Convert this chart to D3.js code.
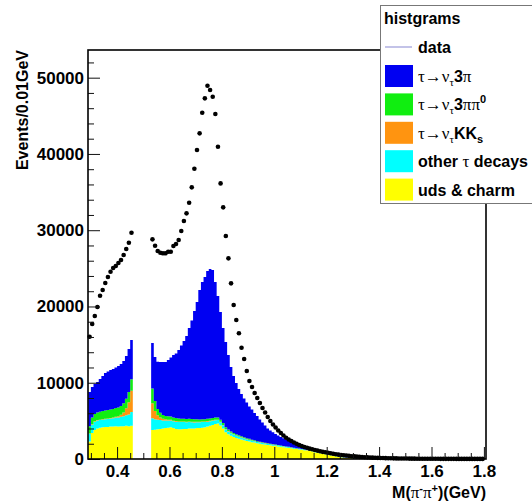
<!DOCTYPE html>
<html>
<head>
<meta charset="utf-8">
<script src="https://cdn.jsdelivr.net/npm/d3@7"></script>
<style>
  body { margin: 0; background: #fff; }
  svg text { font-family: "Liberation Sans", Arial, Helvetica, sans-serif; font-weight: bold; }
  svg .sym { font-family: "Liberation Serif", "Times New Roman", serif; font-weight: normal; }
</style>
</head>
<body>
<div id="chart"></div>
<script>
// bins are 0.01 GeV wide, the window 0.46-0.53 is vetoed (no entries)
const binWidth = 0.01
const lowStart = 0.29
const highStart = 0.53

// data, events per bin
const dataLow = [16030, 17700, 18750, 19930, 21410, 22160, 23070, 23860, 24550, 25040, 25300, 25700, 26090, 26750, 27530, 28360, 29670]
const dataHigh = [
  28800, 27960, 27270, 27050, 26970, 26970, 27180, 27180, 27920, 28190,
  28710, 29890, 31200, 32210, 33600, 35620, 38060, 40510, 42700, 45400,
  47290, 48940, 48380, 47500, 45230, 40940, 36140, 33000, 29240, 26310,
  23030, 20190, 18220, 16480, 14590, 13110, 11540, 10230, 9440, 8650,
  8000, 7340, 6690, 6100, 5510, 4980, 4520, 4130, 3740, 3410,
  3080, 2790, 2560, 2360, 2160, 1990, 1840, 1700, 1570, 1470,
  1360, 1270, 1180, 1100, 1020, 940, 880, 810, 750, 680,
  630, 580, 520, 490, 450, 410, 370, 340, 310, 285,
  260, 235, 215, 195, 178, 162, 148, 135, 123, 112,
  102, 94, 86, 79, 72, 66, 61, 56, 52, 48,
  44, 41, 38, 35, 33, 31, 29, 27, 25, 24,
  22, 21, 20, 19, 18, 17, 16, 15, 14, 14,
  13, 12, 12, 11, 11, 10, 10]

// MC components (stacked, bottom to top)
const udsLow = [2300, 3400, 3800, 4000, 4100, 4150, 4200, 4200, 4250, 4250, 4300, 4250, 4300, 4300, 4350, 4300, 4350]
const otherLow = [1000, 1100, 1100, 1050, 1000, 1000, 1000, 1050, 1050, 1100, 1150, 1200, 1250, 1300, 1400, 1550, 1800]
const kksLow = [50, 50, 50, 50, 60, 60, 70, 70, 80, 90, 100, 150, 250, 500, 900, 1600, 2800]
const pi3pi0Low = [950, 900, 950, 1000, 1050, 1100, 1100, 1100, 1100, 1100, 1150, 1150, 1150, 1200, 1250, 1350, 1500]
const pi3Low = [4480, 3990, 3930, 4000, 4280, 4570, 4900, 5050, 5190, 5260, 5300, 5440, 5500, 5550, 5600, 5620, 5150]

const udsHigh = [
  3800, 3850, 3900, 3950, 4000, 4050, 4100, 4150, 4050, 3950,
  3900, 3900, 3950, 3950, 4000, 4000, 4000, 4050, 4050, 4100,
  4150, 4250, 4350, 4450, 4600, 4650, 4400, 4000, 3500, 3250,
  3050, 2900, 2750, 2650, 2550, 2450, 2350, 2300, 2200, 2150,
  2050, 2000, 1950, 1900, 1850, 1800, 1750, 1700, 1650, 1600,
  1550, 1500, 1450, 1400, 1350, 1300, 1250, 1200, 1150, 1100,
  1050, 1000, 900, 830, 760, 690, 620, 550, 480, 410,
  350, 290, 240, 200, 160, 130, 100, 80, 65, 50,
  40, 30]
const otherHigh = [
  1550, 1350, 1250, 1150, 1050, 1000, 950, 900, 900, 950,
  950, 950, 900, 880, 850, 830, 800, 780, 760, 740,
  700, 650, 600, 550, 480, 450, 430, 420, 400, 370,
  340, 310, 290, 270, 250, 230, 210, 200, 190, 180,
  170, 160, 150, 140, 130, 125, 120, 115, 110, 105,
  100, 95, 90, 86, 82, 78, 74, 70, 66, 62,
  58, 55, 52, 49, 46, 43, 40, 37, 34, 32,
  30, 28, 26, 24, 22, 20, 18, 16, 15, 14,
  13, 12]
const kksHigh = [
  1950, 1100, 600, 350, 220, 150, 110, 90, 80, 70,
  70, 70, 70, 70, 70, 70, 70, 70, 70, 70,
  70, 70, 70, 70, 60, 60, 60, 50, 50, 50,
  50, 40, 40, 40, 40, 30, 30, 30, 30, 30,
  25, 25, 25, 20, 20, 20, 20, 15, 15, 15,
  15, 12, 12, 12, 10, 10, 10, 10, 8, 8,
  8, 6, 6, 6, 5, 5, 5, 4, 4, 4,
  3, 3, 3, 2, 2, 2, 2, 1, 1, 1,
  1, 1]
const pi3pi0High = [
  1950, 1300, 800, 600, 500, 450, 430, 420, 400, 390,
  380, 370, 370, 360, 350, 340, 330, 320, 310, 300,
  300, 300, 300, 300, 300, 280, 260, 240, 220, 200,
  180, 170, 160, 150, 140, 130, 120, 110, 100, 95,
  90, 85, 80, 75, 70, 65, 60, 55, 50, 48,
  46, 44, 42, 40, 38, 36, 34, 32, 30, 28,
  26, 24, 22, 20, 18, 17, 16, 15, 14, 13,
  12, 11, 10, 9, 8, 7, 6, 6, 5, 5,
  4, 4]
const pi3High = [
  5950, 5770, 6200, 6670, 6950, 7070, 7390, 7750, 8210, 8470,
  8990, 9590, 10180, 10870, 11900, 12920, 14200, 15360, 16970, 17990,
  18640, 19380, 19590, 19410, 17760, 15930, 14120, 12460, 11170, 9760,
  8440, 7460, 6720, 6070, 5540, 5090, 4700, 4240, 3970, 3575,
  3305, 2910, 2585, 2255, 1930, 1730, 1550, 1395, 1255, 1110,
  1000, 910, 810, 710, 640, 570, 490, 420, 360, 310,
  250, 200, 210, 195, 180, 165, 150, 125, 110, 100,
  95, 90, 70, 65, 60, 50, 45, 37, 34, 20,
  12, 8]

const xMajorTicks = [0.4, 0.6, 0.8, 1.0, 1.2, 1.4, 1.6, 1.8]
const xTickLabels = ["0.4", "0.6", "0.8", "1", "1.2", "1.4", "1.6", "1.8"]
const yMajorTicks = [0, 10000, 20000, 30000, 40000, 50000]

const components = [
  { key: "uds", color: "#ffff00", low: udsLow, high: udsHigh },
  { key: "other", color: "#00ffff", low: otherLow, high: otherHigh },
  { key: "kks", color: "#ff9410", low: kksLow, high: kksHigh },
  { key: "pi3pi0", color: "#10ee10", low: pi3pi0Low, high: pi3pi0High },
  { key: "pi3", color: "#0000f2", low: pi3Low, high: pi3High }
]

class StackPlot {

  constructor(selector) {

    this.width = 532
    this.height = 504
    this.frame = { left: 88, right: 486, top: 50, bottom: 459 }

    this.svg = d3.select(selector).append("svg")
      .attr("width", this.width)
      .attr("height", this.height)

    this.x = d3.scaleLinear().domain([0.289, 1.808]).range([this.frame.left, this.frame.right])
    this.y = d3.scaleLinear().domain([0, 53630]).range([this.frame.bottom, this.frame.top])

    this.svg.append("clipPath").attr("id", "frameclip")
      .append("rect")
      .attr("x", this.frame.left).attr("y", this.frame.top)
      .attr("width", this.frame.right - this.frame.left)
      .attr("height", this.frame.bottom - this.frame.top)

    this.drawStack(lowStart, "low")
    this.drawStack(highStart, "high")
    this.drawData()
    this.drawAxes()
    this.drawLegend()

  }

  stackRows(start, seg) {
    let n = components[0][seg].length
    let rows = d3.range(n + 1).map(i => {
      let j = Math.min(i, n - 1)
      let row = { lo: +(start + i * binWidth).toFixed(3) }
      components.forEach(c => row[c.key] = c[seg][j])
      return row
    })
    return d3.stack().keys(components.map(c => c.key))(rows)
  }

  drawStack(start, seg) {

    var self = this

    let area = d3.area()
      .curve(d3.curveStepAfter)
      .x(d => self.x(d.data.lo))
      .y0(d => self.y(d[0]))
      .y1(d => self.y(d[1]))

    this.svg.append("g")
      .attr("clip-path", "url(#frameclip)")
      .selectAll("path")
      .data(this.stackRows(start, seg))
      .enter().append("path")
      .attr("fill", (d, i) => components[i].color)
      .attr("d", area)

  }

  drawData() {

    var self = this

    let points = dataLow.map((v, i) => [lowStart + (i + 0.5) * binWidth, v])
      .concat(dataHigh.map((v, i) => [highStart + (i + 0.5) * binWidth, v]))

    this.svg.append("g")
      .selectAll("circle")
      .data(points)
      .enter().append("circle")
      .attr("cx", d => self.x(d[0]))
      .attr("cy", d => self.y(d[1]))
      .attr("r", 2.3)
      .attr("fill", "#000")

  }

  drawAxes() {

    let f = this.frame

    let yMinor = d3.range(0, 53001, 2000).filter(v => v % 10000 !== 0)
    let xMinor = d3.range(30, 181, 5).map(v => v / 100).filter(v => !xMajorTicks.some(t => Math.abs(t - v) < 1e-6))

    let yAxis = this.svg.append("g")
      .attr("transform", `translate(${f.left},0)`)
      .call(d3.axisLeft(this.y).tickValues(yMajorTicks).tickSize(-12).tickSizeOuter(0).tickPadding(4).tickFormat(d3.format("d")))
    yAxis.select(".domain").remove()
    yAxis.selectAll("text").attr("font-size", 17).attr("font-family", null)

    let yMinorAxis = this.svg.append("g")
      .attr("transform", `translate(${f.left},0)`)
      .call(d3.axisLeft(this.y).tickValues(yMinor).tickSize(-6).tickFormat(""))
    yMinorAxis.select(".domain").remove()

    let xAxis = this.svg.append("g")
      .attr("transform", `translate(0,${f.bottom})`)
      .call(d3.axisBottom(this.x).tickValues(xMajorTicks).tickSize(-12).tickSizeOuter(0).tickPadding(6)
        .tickFormat((d, i) => xTickLabels[i]))
    xAxis.select(".domain").remove()
    xAxis.selectAll("text").attr("font-size", 17).attr("font-family", null)

    let xMinorAxis = this.svg.append("g")
      .attr("transform", `translate(0,${f.bottom})`)
      .call(d3.axisBottom(this.x).tickValues(xMinor).tickSize(-6).tickFormat(""))
    xMinorAxis.select(".domain").remove()

    this.svg.selectAll(".tick line").attr("stroke", "#111")

    this.svg.append("rect")
      .attr("x", f.left).attr("y", f.top)
      .attr("width", f.right - f.left).attr("height", f.bottom - f.top)
      .attr("fill", "none").attr("stroke", "#000").attr("stroke-width", 1.6)

    this.svg.append("text")
      .attr("transform", `translate(28,${f.top}) rotate(-90)`)
      .attr("text-anchor", "end")
      .attr("font-size", 16)
      .text("Events/0.01GeV")

    let xt = this.svg.append("text")
      .attr("x", f.right).attr("y", 498)
      .attr("text-anchor", "end")
      .attr("font-size", 16)
    xt.append("tspan").text("M(")
    xt.append("tspan").attr("class", "sym").attr("font-size", 17).text("π")
    xt.append("tspan").attr("font-size", 11).attr("dy", -6).text("-")
    xt.append("tspan").attr("class", "sym").attr("font-size", 17).attr("dy", 6).text("π")
    xt.append("tspan").attr("font-size", 11).attr("dy", -6).text("+")
    xt.append("tspan").attr("dy", 6).text(")(GeV)")

  }

  drawLegend() {

    let g = this.svg.append("g")

    g.append("rect")
      .attr("x", 380.5).attr("y", 5.5)
      .attr("width", 170).attr("height", 198)
      .attr("fill", "#fff").attr("stroke", "#777").attr("stroke-width", 1)

    g.append("text").attr("x", 384).attr("y", 24).attr("font-size", 16).text("histgrams")

    g.append("line")
      .attr("x1", 385).attr("x2", 412).attr("y1", 47).attr("y2", 47)
      .attr("stroke", "#9a9ad8").attr("stroke-width", 1.2)
    g.append("text").attr("x", 418).attr("y", 53).attr("font-size", 16).text("data")

    // label pieces: s = symbol font, sub / sup = shifted
    let labels = [
      [["τ→ν", "s"], ["τ", "s sub"], ["3", ""], ["π", "s"]],
      [["τ→ν", "s"], ["τ", "s sub"], ["3", ""], ["ππ", "s"], ["0", "sup"]],
      [["τ→ν", "s"], ["τ", "s sub"], ["KK", ""], ["s", "sub"]],
      [["other ", ""], ["τ", "s"], [" decays", ""]],
      [["uds & charm", ""]]
    ]
    let order = ["pi3", "pi3pi0", "kks", "other", "uds"]

    order.forEach((key, i) => {
      let top = 65 + i * 28.4
      let comp = components.find(c => c.key === key)
      g.append("rect")
        .attr("x", 385).attr("y", top)
        .attr("width", 28).attr("height", 22)
        .attr("fill", comp.color)

      let t = g.append("text").attr("x", 418).attr("y", top + 17).attr("font-size", 16)
      let shift = 0
      labels[i].forEach(p => {
        let cls = p[1]
        let dy = 0
        if (cls.includes("sub")) dy = 4
        if (cls.includes("sup")) dy = -7
        let span = t.append("tspan").attr("dy", dy - shift).text(p[0])
        shift = dy
        if (cls.includes("s ") || cls === "s") span.attr("class", "sym").attr("font-size", 17)
        if (dy !== 0) span.attr("font-size", 11)
      })
    })

  }
}

new StackPlot("#chart")
</script>
</body>
</html>
